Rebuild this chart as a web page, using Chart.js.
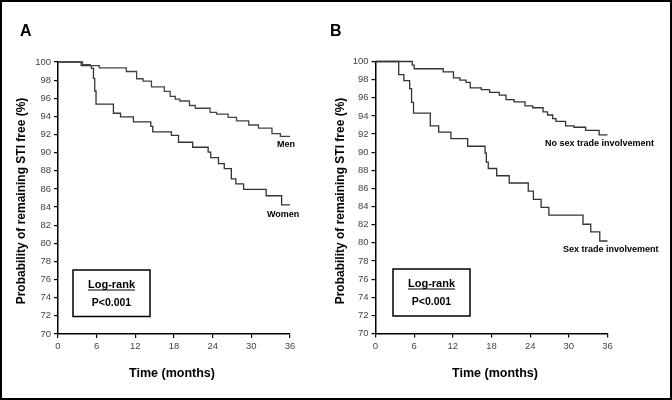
<!DOCTYPE html>
<html><head><meta charset="utf-8">
<script src="https://cdn.jsdelivr.net/npm/chart.js@4"></script>
<style>
html,body{margin:0;padding:0;background:#fff;}
#wrap{position:relative;width:672px;height:400px;box-sizing:border-box;border:2px solid #000;overflow:hidden;}
canvas{position:absolute;left:-2px;top:-2px;}
</style></head><body>
<div id="wrap"><canvas id="cA" width="672" height="400"></canvas><canvas id="cB" width="672" height="400"></canvas></div>
<script>
// Panel A: Men / Women
const menT   = [0,3.8,5.0,6.4,10.6,12.2,13.2,14.5,16.5,17.4,18.2,18.9,20.4,21.3,23.6,24.6,26.4,27.7,29.6,31.1,33.2,34.5,36];
const menS   = [100,99.7,99.6,99.35,98.95,98.15,97.9,97.25,96.75,96.2,95.9,95.7,95.2,94.9,94.45,94.25,93.9,93.5,93.05,92.7,92.1,91.8,91.8];
const womenT = [0,3.6,5.2,5.5,5.7,5.9,8.6,9.7,11.7,14.4,14.7,17.6,18.7,20.9,23.3,23.7,24.9,25.8,26.9,27.6,28.8,32.3,34.7,36];
const womenS = [100,99.6,99.3,98.2,96.8,95.35,94.35,93.95,93.4,92.9,92.3,91.9,91.15,90.6,90.05,89.45,88.8,88.25,87.1,86.55,85.95,85.25,84.25,84.25];
// Panel B: No sex trade / Sex trade involvement
const noT  = [0,5.7,6.0,10.5,12.1,13.1,14.05,14.7,16.4,17.7,19.2,20.25,21.5,23.2,24.4,26.0,26.7,27.5,28.0,29.5,30.8,32.6,34.7,36];
const noS  = [100,99.6,99.2,98.85,98.2,97.95,97.7,97.1,96.9,96.6,96.3,95.8,95.55,95.1,94.9,94.45,94.1,93.7,93.4,92.9,92.75,92.4,91.9,91.9];
const sexT = [0,3.6,4.4,5.3,5.6,5.9,8.5,9.8,11.7,14.3,17.0,17.2,17.5,18.8,20.75,23.7,24.5,25.7,26.9,32.2,33.4,34.8,36];
const sexS = [100,98.55,97.9,97.0,95.5,94.3,92.9,92.2,91.5,90.65,89.9,88.9,88.2,87.4,86.6,85.7,84.8,83.9,83.05,82.05,81.2,80.2,80.2];

const xTicks = [0,6,12,18,24,30,36];
const yTicks = [70,72,74,76,78,80,82,84,86,88,90,92,94,96,98,100];
const yTitle = 'Probability of remaining STI free (%)';
const xTitle = 'Time (months)';

const FONT = '"Liberation Sans", Arial, Helvetica, sans-serif';

function pts(t, s){ return t.map((v,i)=>({x:v,y:s[i]})); }

function makeChart(id, area, series, ann){
  const ds = series.map(s=>({
    data: pts(s.t, s.s), stepped: 'before', borderColor: s.color, borderWidth: 1.3,
    pointRadius: 0, fill: false, clip: false
  }));
  const annPlugin = {
    id: 'ann'+id,
    afterDraw(chart){
      const ctx = chart.ctx;
      ctx.save();
      ctx.fillStyle = '#000'; ctx.strokeStyle = '#000';
      // panel letter
      ctx.font = 'bold 16px ' + FONT; ctx.textAlign='left'; ctx.textBaseline='alphabetic';
      ctx.fillText(ann.letter, ann.letterX, 36);
      // y title
      ctx.save();
      ctx.translate(ann.yTitleX, 201); ctx.rotate(-Math.PI/2);
      ctx.font = 'bold 12px ' + FONT; ctx.textAlign='center'; ctx.textBaseline='middle';
      ctx.fillText(yTitle, 0, 0);
      ctx.restore();
      // x title
      ctx.font = 'bold 12.5px ' + FONT; ctx.textAlign='center'; ctx.textBaseline='middle';
      ctx.fillText(xTitle, ann.xTitleX, 374);
      // curve labels
      ctx.font = 'bold 9px ' + FONT; ctx.textAlign='left'; ctx.textBaseline='middle';
      ann.labels.forEach(l=>ctx.fillText(l.text, l.x, l.y));
      // log-rank box
      const b = ann.box;
      ctx.lineWidth = 1.5;
      ctx.strokeRect(b.x, b.y, b.w, b.h);
      const cx = b.x + b.w/2;
      ctx.font = 'bold 11px ' + FONT; ctx.textAlign='center'; ctx.textBaseline='alphabetic';
      ctx.fillText('Log-rank', cx, b.y+18);
      const w = ctx.measureText('Log-rank').width;
      ctx.lineWidth = 1.1;
      ctx.beginPath(); ctx.moveTo(cx-w/2, b.y+20); ctx.lineTo(cx+w/2, b.y+20); ctx.stroke();
      ctx.font = 'bold 10.5px ' + FONT;
      ctx.fillText('P<0.001', cx, b.y+35.5);
      ctx.restore();
    }
  };
  return new Chart(document.getElementById(id), {
    type: 'line',
    data: { datasets: ds },
    options: {
      responsive: false, animation: false, devicePixelRatio: 1,
      layout: { padding: { left: area.left - 30, right: 672 - area.right, top: area.top, bottom: 400 - area.bottom - 22 } },
      plugins: { legend: {display:false}, tooltip: {enabled:false} },
      scales: {
        x: {
          type: 'linear', min: 0, max: 36,
          afterBuildTicks: s => { s.ticks = xTicks.map(v=>({value:v})); },
          afterFit: s => { s.height = 22; },
          grid: { drawOnChartArea:false, drawTicks:true, tickLength:4, color:'#000', lineWidth:1.2 },
          border: { display:true, color:'#000', width:1.5 },
          ticks: { color:'#444', font:{family:FONT, size:9.5}, padding:3, maxRotation:0 }
        },
        y: {
          type: 'linear', min: 70, max: 100,
          afterBuildTicks: s => { s.ticks = yTicks.map(v=>({value:v})); },
          afterFit: s => { s.width = 30; },
          grid: { drawOnChartArea:false, drawTicks:true, tickLength:4, color:'#000', lineWidth:1.2 },
          border: { display:true, color:'#000', width:1.5 },
          ticks: { color:'#444', font:{family:FONT, size:9.5}, padding:3 }
        }
      }
    },
    plugins: [annPlugin]
  });
}

makeChart('cA', {left:58, right:290, top:62, bottom:334}, [
  {t: menT, s: menS, color:'#444'},
  {t: womenT, s: womenS, color:'#333'}
], {
  letter:'A', letterX:20, yTitleX:22, xTitleX:172,
  labels:[{text:'Men', x:277, y:145},{text:'Women', x:267, y:215}],
  box:{x:73, y:270, w:77, h:46.5}
});

makeChart('cB', {left:375.5, right:607.5, top:61.5, bottom:333.5}, [
  {t: noT, s: noS, color:'#333'},
  {t: sexT, s: sexS, color:'#333'}
], {
  letter:'B', letterX:330, yTitleX:341, xTitleX:495,
  labels:[{text:'No sex trade involvement', x:545, y:143.5},{text:'Sex trade involvement', x:563, y:250}],
  box:{x:393, y:269, w:77, h:47}
});
</script>
</body></html>
